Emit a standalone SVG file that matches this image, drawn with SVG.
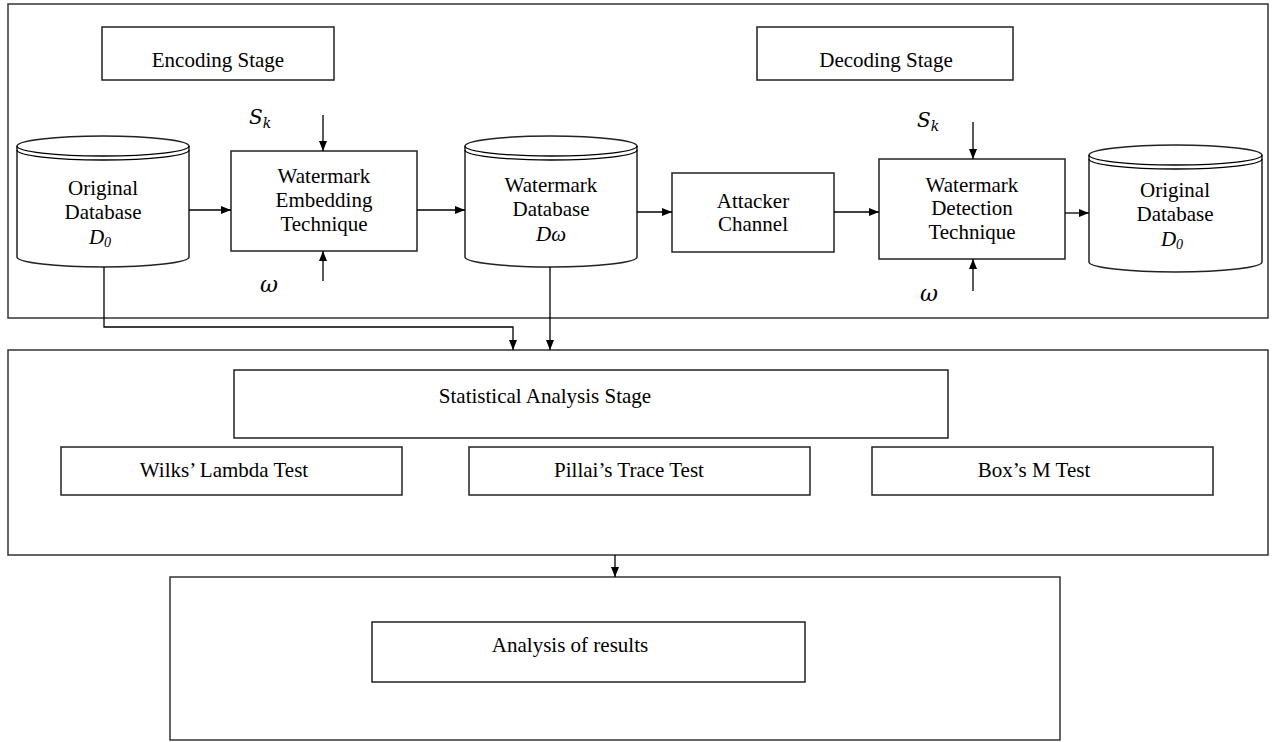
<svg xmlns="http://www.w3.org/2000/svg" width="1275" height="742" viewBox="0 0 1275 742">
<defs>
<marker id="ah" markerWidth="10" markerHeight="8" refX="10" refY="4" orient="auto" markerUnits="userSpaceOnUse">
<path d="M0,0 L10,4 L0,8 Z" fill="#000"/>
</marker>
<style>
.box{fill:#fff;stroke:#222;stroke-width:1.5}
.frame{fill:none;stroke:#333;stroke-width:1.5}
.cyl{fill:#fff;stroke:#222;stroke-width:1.5}
.ln{fill:none;stroke:#000;stroke-width:1.3}
.t{font-family:"Liberation Serif",serif;font-size:21px;fill:#000;text-anchor:middle}
.ts{font-family:"Liberation Serif",serif;font-size:21px;fill:#000;text-anchor:middle}
.it{font-style:italic}
.m{font-family:"DejaVu Serif","Liberation Serif",serif;font-style:italic;fill:#000}
</style>
</defs>
<rect width="1275" height="742" fill="#fff"/>

<g id="encoding-frame"><rect class="frame" x="8" y="4" width="1260" height="314"/></g>
<g id="stat-frame"><rect class="frame" x="8" y="350" width="1260" height="205"/></g>
<g id="result-frame"><rect class="frame" x="170" y="577" width="890" height="163"/></g>

<g id="encoding-stage"><rect class="box" x="102" y="27" width="232" height="53"/><text class="t" x="218" y="67">Encoding Stage</text></g>
<g id="decoding-stage"><rect class="box" x="757" y="27" width="256" height="53"/><text class="t" x="886" y="67">Decoding Stage</text></g>

<g id="sk-enc"><text class="m" x="249" y="124" font-size="20">S<tspan font-size="14" dy="4">k</tspan></text></g>
<g id="w-enc"><text class="m" x="260" y="292" font-size="22">ω</text></g>
<g id="sk-dec"><text class="m" x="917" y="127" font-size="20">S<tspan font-size="14" dy="4">k</tspan></text></g>
<g id="w-dec"><text class="m" x="920" y="301" font-size="22">ω</text></g>

<g id="original-db">
<path class="cyl" d="M17,146 L17,257 A86,10 0 0 0 189,257 L189,146 A86,10 0 0 0 17,146 Z"/>
<path class="ln" d="M17,146 A86,10 0 0 0 189,146"/>
<path class="ln" d="M17,150 A86,10 0 0 0 189,150"/>
<text class="t" x="103" y="195">Original</text>
<text class="t" x="103" y="219">Database</text>
<text class="t it" x="100" y="244">D<tspan font-size="14" dy="3">0</tspan></text>
</g>

<g id="embedding"><rect class="box" x="231" y="151" width="186" height="100"/>
<text class="t" x="324" y="183">Watermark</text>
<text class="t" x="324" y="207">Embedding</text>
<text class="t" x="324" y="231">Technique</text></g>

<g id="watermark-db">
<path class="cyl" d="M465,146 L465,257 A86,10 0 0 0 637,257 L637,146 A86,10 0 0 0 465,146 Z"/>
<path class="ln" d="M465,146 A86,10 0 0 0 637,146"/>
<path class="ln" d="M465,150 A86,10 0 0 0 637,150"/>
<text class="t" x="551" y="192">Watermark</text>
<text class="t" x="551" y="216">Database</text>
<text class="t it" x="551" y="241">Dω</text>
</g>

<g id="attacker"><rect class="box" x="672" y="173" width="162" height="79"/>
<text class="t" x="753" y="208">Attacker</text>
<text class="t" x="753" y="231">Channel</text></g>

<g id="detection"><rect class="box" x="879" y="159" width="186" height="100"/>
<text class="t" x="972" y="192">Watermark</text>
<text class="t" x="972" y="215">Detection</text>
<text class="t" x="972" y="239">Technique</text></g>

<g id="original-db-2">
<path class="cyl" d="M1089,155 L1089,262 A86.5,10 0 0 0 1262,262 L1262,155 A86.5,10 0 0 0 1089,155 Z"/>
<path class="ln" d="M1089,155 A86.5,10 0 0 0 1262,155"/>
<path class="ln" d="M1089,159 A86.5,10 0 0 0 1262,159"/>
<text class="t" x="1175" y="197">Original</text>
<text class="t" x="1175" y="221">Database</text>
<text class="t it" x="1172" y="246">D<tspan font-size="14" dy="3">0</tspan></text>
</g>

<g id="stat-stage"><rect class="box" x="234" y="370" width="714" height="68"/><text class="ts" x="545" y="403">Statistical Analysis Stage</text></g>
<g id="wilks"><rect class="box" x="61" y="447" width="341" height="48"/><text class="ts" x="224" y="477">Wilks’ Lambda Test</text></g>
<g id="pillai"><rect class="box" x="469" y="447" width="341" height="48"/><text class="ts" x="629" y="477">Pillai’s Trace Test</text></g>
<g id="boxm"><rect class="box" x="872" y="447" width="341" height="48"/><text class="ts" x="1034" y="477">Box’s M Test</text></g>
<g id="analysis"><rect class="box" x="372" y="622" width="433" height="60"/><text class="ts" x="570" y="652">Analysis of results</text></g>

<g id="connectors">
<line class="ln" x1="323" y1="115" x2="323" y2="151" marker-end="url(#ah)"/>
<line class="ln" x1="323" y1="281" x2="323" y2="251" marker-end="url(#ah)"/>
<line class="ln" x1="973" y1="122" x2="973" y2="159" marker-end="url(#ah)"/>
<line class="ln" x1="973" y1="291" x2="973" y2="259" marker-end="url(#ah)"/>
<line class="ln" x1="189" y1="210" x2="231" y2="210" marker-end="url(#ah)"/>
<line class="ln" x1="417" y1="210" x2="465" y2="210" marker-end="url(#ah)"/>
<line class="ln" x1="637" y1="212" x2="672" y2="212" marker-end="url(#ah)"/>
<line class="ln" x1="834" y1="212" x2="879" y2="212" marker-end="url(#ah)"/>
<line class="ln" x1="1065" y1="213" x2="1089" y2="213" marker-end="url(#ah)"/>
<polyline class="ln" points="104,267 104,327 513,327 513,350" marker-end="url(#ah)"/>
<line class="ln" x1="550" y1="267" x2="550" y2="350" marker-end="url(#ah)"/>
<line class="ln" x1="615" y1="555" x2="615" y2="577" marker-end="url(#ah)"/>
</g>
</svg>
